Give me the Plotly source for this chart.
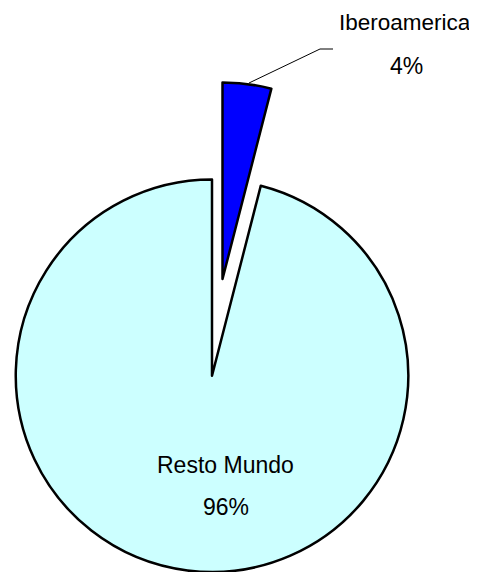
import plotly.graph_objects as go

OFF = 8  # page body margin offset
W, H = 477 - OFF, 572 - OFF

labels = ["Iberoamerica", "Resto Mundo"]
values = [4, 96]
colors = ["#0000FF", "#CCFFFF"]
percent_text = ["4%", "96%"]

FONT = "Liberation Sans, Arial, sans-serif"

def dom(cx, cy, r):
    cx, cy = cx - OFF, cy - OFF
    x0, x1 = (cx - r) / W, (cx + r) / W
    y0, y1 = (H - (cy + r)) / H, (H - (cy - r)) / H
    return dict(x=[max(0, x0), min(1, x1)], y=[max(0, y0), min(1, y1)])

fig = go.Figure()

# Resto Mundo (main body)
fig.add_trace(go.Pie(
    labels=labels, values=values, sort=False, direction="clockwise", rotation=0,
    marker=dict(colors=["rgba(0,0,0,0)", colors[1]],
                line=dict(color="black", width=[0, 2.5])),
    textinfo="none", hoverinfo="skip", showlegend=False,
    domain=dom(212, 376, 196.5),
))

# Iberoamerica (exploded slice)
fig.add_trace(go.Pie(
    labels=labels, values=values, sort=False, direction="clockwise", rotation=0,
    marker=dict(colors=[colors[0], "rgba(0,0,0,0)"],
                line=dict(color="black", width=[2.5, 0])),
    textinfo="none", hoverinfo="skip", showlegend=False,
    domain=dom(222.5, 279, 196.5),
))

def px(x, y):
    return (x - OFF) / W, 1 - (y - OFF) / H

annots = [
    (labels[0], 405, 23, 22.5),
    (percent_text[0], 406, 66, 23),
    (labels[1], 225, 465, 23),
    (percent_text[1], 226, 507, 23),
]
for t, x, y, s in annots:
    ax_, ay_ = px(x, y)
    fig.add_annotation(x=ax_, y=ay_, xref="paper", yref="paper", text=t,
                       showarrow=False, font=dict(family=FONT, size=s, color="black"),
                       xanchor="center", yanchor="middle")

# leader line
p1, p2, p3 = px(249, 83), px(320, 49), px(333, 49)
fig.add_shape(type="path", xref="paper", yref="paper",
              path=f"M {p1[0]} {p1[1]} L {p2[0]} {p2[1]} L {p3[0]} {p3[1]}",
              line=dict(color="black", width=1))

fig.update_layout(width=W, height=H, margin=dict(l=0, r=0, t=0, b=0),
                  paper_bgcolor="white", plot_bgcolor="white")
fig.write_html("out.html")
